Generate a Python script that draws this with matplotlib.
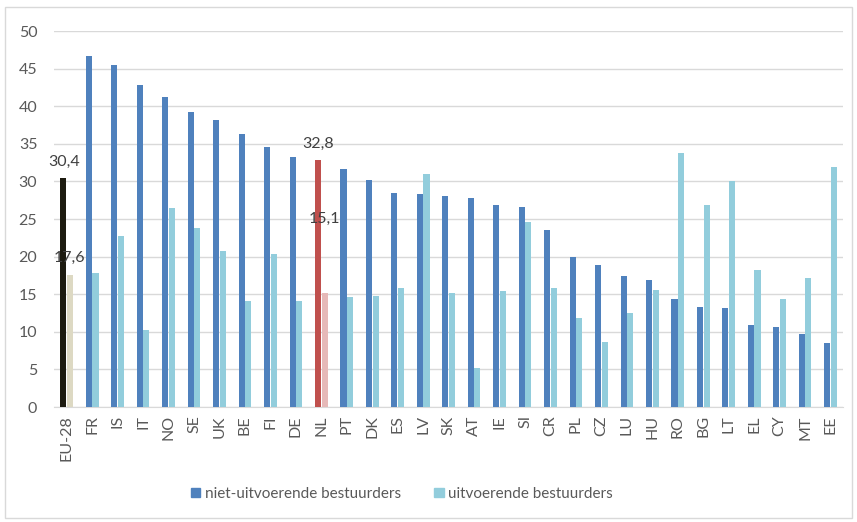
import matplotlib.pyplot as plt
import numpy as np
from matplotlib.patches import Patch, Rectangle

plt.rcParams['font.family'] = ['Lato', 'DejaVu Sans']

landen = ['EU-28', 'FR', 'IS', 'IT', 'NO', 'SE', 'UK', 'BE', 'FI', 'DE', 'NL', 'PT',
          'DK', 'ES', 'LV', 'SK', 'AT', 'IE', 'SI', 'CR', 'PL', 'CZ', 'LU', 'HU',
          'RO', 'BG', 'LT', 'EL', 'CY', 'MT', 'EE']
niet_uitvoerend = [30.4, 46.7, 45.5, 42.8, 41.2, 39.2, 38.1, 36.3, 34.6, 33.3, 32.8, 31.7,
                   30.2, 28.5, 28.3, 28.1, 27.8, 26.9, 26.6, 23.6, 20.0, 18.9, 17.4, 16.9,
                   14.4, 13.3, 13.1, 10.9, 10.7, 9.7, 8.5]
uitvoerend = [17.6, 17.8, 22.7, 10.2, 26.5, 23.8, 20.7, 14.1, 20.3, 14.1, 15.1, 14.6,
              14.8, 15.8, 31.0, 15.2, 5.2, 15.4, 24.6, 15.8, 11.9, 8.7, 12.5, 15.5,
              33.8, 26.9, 30.1, 18.2, 14.3, 17.2, 31.9]

DONKER = '#4F81BD'
LICHT = '#92CDDC'
TEKST = '#595959'

kleur_niet = [DONKER] * len(landen)
kleur_uit = [LICHT] * len(landen)
kleur_niet[0], kleur_uit[0] = '#1D1B10', '#DDD9C3'
nl = landen.index('NL')
kleur_niet[nl], kleur_uit[nl] = '#C0504D', '#E6B9B8'

fig = plt.figure(figsize=(8.57, 5.22), dpi=100)
ax = fig.add_axes([0.063, 0.2203, 0.921, 0.7203])

x = np.arange(len(landen))
breedte = 0.24
ax.bar(x - breedte / 2 - 0.01, niet_uitvoerend, breedte, color=kleur_niet, zorder=3)
ax.bar(x + breedte / 2 + 0.01, uitvoerend, breedte, color=kleur_uit, zorder=3)

# Labels bij EU-28 en NL (de 15,1 staat in het origineel een stuk hoger)
def label(xpos, waarde, dy):
    ax.annotate(f'{waarde:.1f}'.replace('.', ','), (xpos, waarde), xytext=(0, dy),
                textcoords='offset points', ha='center', va='bottom',
                fontsize=11.5, color='#404040', zorder=4)

label(x[0] - breedte / 2, niet_uitvoerend[0], 7)
label(x[0] + breedte / 2, uitvoerend[0], 7)
label(x[nl] - breedte / 2, niet_uitvoerend[nl], 7)
label(x[nl] + breedte / 2, uitvoerend[nl], 49)

ax.set_ylim(0, 50)
ax.set_yticks(range(0, 51, 5))
ax.set_xlim(-0.5, len(landen) - 0.5)
ax.set_xticks(x)
ax.set_xticklabels(landen, rotation=90)
ax.tick_params(axis='both', length=0, labelsize=11.5, colors=TEKST)
ax.tick_params(axis='y', pad=12)
ax.tick_params(axis='x', pad=6)
ax.grid(axis='y', color='#D9D9D9', linewidth=1, zorder=0)
for kant in ['top', 'right', 'left']:
    ax.spines[kant].set_visible(False)
ax.spines['bottom'].set_color('#D9D9D9')

handles = [Patch(color=DONKER, label='niet-uitvoerende bestuurders'),
           Patch(color=LICHT, label='uitvoerende bestuurders')]
fig.legend(handles=handles, loc='center', bbox_to_anchor=(0.469, 0.054), ncol=2,
           frameon=False, fontsize=11, labelcolor=TEKST, handlelength=0.6,
           handleheight=0.6, handletextpad=0.3, columnspacing=2.2)

fig.patches.append(Rectangle((0.006, 0.008), 0.988, 0.978, transform=fig.transFigure,
                             fill=False, edgecolor='#D9D9D9', linewidth=1))

plt.savefig('out.png', dpi=100)
